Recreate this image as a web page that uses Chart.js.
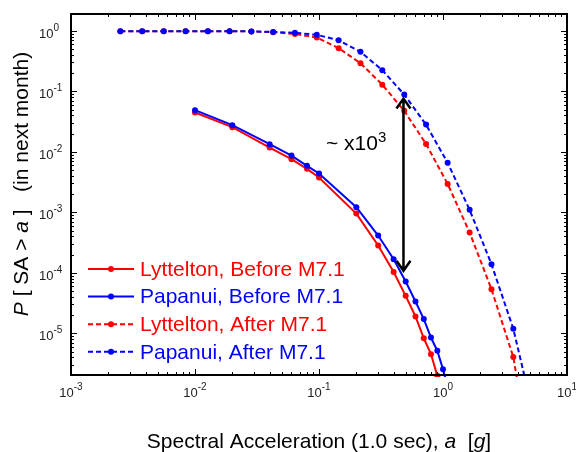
<!DOCTYPE html>
<html>
<head>
<meta charset="utf-8">
<script src="https://cdn.jsdelivr.net/npm/chart.js@4/dist/chart.umd.min.js"></script>
<style>
  html, body { margin: 0; padding: 0; background: #fff; }
</style>
</head>
<body>
<canvas id="hazardChart" width="576" height="452"></canvas>
<script>
// spectral acceleration grid (g)
const accelBefore = [0.01, 0.02, 0.04, 0.06, 0.08, 0.1, 0.2, 0.3, 0.4, 0.5, 0.6, 0.7, 0.8, 0.9, 1.0, 1.1];
const accelAfter = [0.0025, 0.00375, 0.0056, 0.0084, 0.0127, 0.019, 0.0285, 0.0427, 0.064, 0.096,
    0.144, 0.216, 0.324, 0.487, 0.73, 1.09, 1.64, 2.46, 3.69, 5.54];

// probability of exceedance in next month
const lyttBefore = [0.0447, 0.0256, 0.0118, 0.00757, 0.00524, 0.00377, 0.000955, 0.000283, 0.000103,
    4.17e-5, 1.9e-5, 8.3e-6, 4.53e-6, 1.99e-6, 8e-7];
const papBefore = [0.0489, 0.0276, 0.0134, 0.00869, 0.00587, 0.00439, 0.00122, 0.000414, 0.000168,
    7.2e-5, 3.36e-5, 1.72e-5, 8.53e-6, 5.14e-6, 2.55e-6, 1.2e-6];
const lyttAfter = [0.99, 0.99, 0.99, 0.99, 0.99, 0.99, 0.98, 0.95, 0.89, 0.775, 0.518, 0.292, 0.129,
    0.0476, 0.0135, 0.00295, 0.000464, 5.37e-5, 4.05e-6, 3e-8];
const papAfter = [0.99, 0.99, 0.99, 0.99, 0.99, 0.99, 0.98, 0.96, 0.93, 0.86, 0.70, 0.45, 0.224,
    0.0885, 0.0282, 0.0066, 0.0011, 0.000139, 1.19e-5, 3.5e-7];

const seriesNames = ['Lyttelton, Before M7.1', 'Papanui, Before M7.1', 'Lyttelton, After M7.1', 'Papanui, After M7.1'];
const xTickExps = [-3, -2, -1, 0, 1];
const yTickExps = [-5, -4, -3, -2, -1, 0];

// arrow annotation: x position and the two ends
const arrowX = 0.48;
const arrowTop = 0.076;
const arrowBottom = 1.08e-4;

const FONT = '"Liberation Sans", Arial, sans-serif';
const RED = '#ff0000';
const BLUE = '#0000ff';
const DASH = [5, 3];

function toPoints(xs, ys) {
    return ys.map((y, i) => ({ x: xs[i], y: y }));
}

function makeSet(label, xs, ys, color, dashed, order) {
    return {
        label: label,
        data: toPoints(xs, ys),
        order: order,
        borderColor: color,
        backgroundColor: color,
        borderWidth: 2,
        borderDash: dashed ? DASH : [],
        pointRadius: 3,
        pointBorderWidth: 0,
        pointBackgroundColor: color,
        tension: 0,
        fill: false,
        clip: 2
    };
}

function logTicks(min, max) {
    const out = [];
    for (let e = Math.floor(Math.log10(min)); e <= Math.ceil(Math.log10(max)); e++) {
        for (let m = 1; m < 10; m++) {
            const v = m * Math.pow(10, e);
            if (v >= min * 0.9999 && v <= max * 1.0001) out.push({ v: v, major: m === 1 });
        }
    }
    return out;
}

function drawRich(ctx, parts, x, y, size) {
    // parts: [text, italic]; x is left edge
    let cx = x;
    parts.forEach(p => {
        ctx.font = (p[1] ? 'italic ' : '') + size + 'px ' + FONT;
        ctx.fillText(p[0], cx, y);
        cx += ctx.measureText(p[0]).width;
    });
    return cx - x;
}

function richWidth(ctx, parts, size) {
    let w = 0;
    parts.forEach(p => {
        ctx.font = (p[1] ? 'italic ' : '') + size + 'px ' + FONT;
        w += ctx.measureText(p[0]).width;
    });
    return w;
}

const decorPlugin = {
    id: 'decor',
    afterDraw(chart) {
        const ctx = chart.ctx;
        const xs = chart.scales.x, ys = chart.scales.y;
        const a = chart.chartArea;
        ctx.save();
        ctx.fillStyle = '#000';
        ctx.strokeStyle = '#000';

        // frame
        ctx.lineWidth = 2;
        ctx.strokeRect(a.left, a.top, a.right - a.left, a.bottom - a.top);

        // ticks, inward on all sides
        ctx.lineWidth = 1;
        ctx.beginPath();
        logTicks(xs.min, xs.max).forEach(t => {
            const px = Math.round(xs.getPixelForValue(t.v)) + 0.5;
            const len = t.major ? 6 : 3;
            ctx.moveTo(px, a.bottom); ctx.lineTo(px, a.bottom - len);
            ctx.moveTo(px, a.top); ctx.lineTo(px, a.top + len);
        });
        logTicks(ys.min, ys.max).forEach(t => {
            const py = Math.round(ys.getPixelForValue(t.v)) + 0.5;
            const len = t.major ? 6 : 3;
            ctx.moveTo(a.left, py); ctx.lineTo(a.left + len, py);
            ctx.moveTo(a.right, py); ctx.lineTo(a.right - len, py);
        });
        ctx.stroke();

        // tick labels 10^n
        ctx.textBaseline = 'alphabetic';
        ctx.textAlign = 'left';
        ctx.fillStyle = '#222';
        xTickExps.forEach(e => {
            const px = xs.getPixelForValue(Math.pow(10, e));
            ctx.font = '13px ' + FONT;
            const w1 = ctx.measureText('10').width;
            ctx.font = '10px ' + FONT;
            const w2 = ctx.measureText(String(e)).width;
            const left = px - (w1 + w2) / 2;
            ctx.font = '13px ' + FONT;
            ctx.fillText('10', left, a.bottom + 22);
            ctx.font = '10px ' + FONT;
            ctx.fillText(String(e), left + w1, a.bottom + 15);
        });
        yTickExps.forEach(e => {
            const py = ys.getPixelForValue(Math.pow(10, e));
            ctx.font = '13px ' + FONT;
            const w1 = ctx.measureText('10').width;
            ctx.fillText('10', 39, py + 7);
            ctx.font = '10px ' + FONT;
            ctx.fillText(String(e), 39 + w1, py);
        });

        // axis titles
        ctx.fillStyle = '#000';
        const xTitle = [['Spectral Acceleration (1.0 sec), ', false], ['a', true], ['  [', false], ['g', true], [']', false]];
        const xw = richWidth(ctx, xTitle, 21);
        drawRich(ctx, xTitle, (a.left + a.right) / 2 - xw / 2, 448, 21);

        const yTitle = [['P', true], [' [ SA > ', false], ['a', true], [' ]   (in next month)', false]];
        const yw = richWidth(ctx, yTitle, 21);
        ctx.save();
        ctx.translate(28, 184);
        ctx.rotate(-Math.PI / 2);
        drawRich(ctx, yTitle, -yw / 2, 0, 21);
        ctx.restore();

        // legend
        const rows = [[RED, false], [BLUE, false], [RED, true], [BLUE, true]];
        rows.forEach((r, i) => {
            const y = 269 + i * 27.6;
            ctx.strokeStyle = r[0];
            ctx.fillStyle = r[0];
            ctx.lineWidth = 2;
            ctx.setLineDash(r[1] ? DASH : []);
            ctx.beginPath();
            ctx.moveTo(88, y); ctx.lineTo(134, y);
            ctx.stroke();
            ctx.setLineDash([]);
            ctx.beginPath();
            ctx.arc(111, y, 3, 0, Math.PI * 2);
            ctx.fill();
            ctx.font = '21px ' + FONT;
            ctx.textBaseline = 'middle';
            ctx.fillText(seriesNames[i], 140, y + 1);
        });
        ctx.textBaseline = 'alphabetic';

        // double arrow
        const ax = xs.getPixelForValue(arrowX);
        const ay1 = ys.getPixelForValue(arrowTop);
        const ay2 = ys.getPixelForValue(arrowBottom);
        ctx.strokeStyle = '#000';
        ctx.lineWidth = 2.5;
        ctx.beginPath();
        ctx.moveTo(ax, ay1); ctx.lineTo(ax, ay2);
        ctx.moveTo(ax - 7, ay1 + 10); ctx.lineTo(ax, ay1); ctx.lineTo(ax + 7, ay1 + 10);
        ctx.moveTo(ax - 7, ay2 - 10); ctx.lineTo(ax, ay2); ctx.lineTo(ax + 7, ay2 - 10);
        ctx.stroke();

        ctx.fillStyle = '#000';
        ctx.font = '21px ' + FONT;
        ctx.fillText('~ x10', 326, 150);
        const tw = ctx.measureText('~ x10').width;
        ctx.font = '15px ' + FONT;
        ctx.fillText('3', 326 + tw, 142);

        ctx.restore();
    }
};

const ctx = document.getElementById('hazardChart').getContext('2d');
const hazardChart = new Chart(ctx, {
    type: 'line',
    data: {
        datasets: [
            makeSet(seriesNames[0], accelBefore, lyttBefore, RED, false, 3),
            makeSet(seriesNames[1], accelBefore, papBefore, BLUE, false, 2),
            makeSet(seriesNames[2], accelAfter, lyttAfter, RED, true, 1),
            makeSet(seriesNames[3], accelAfter, papAfter, BLUE, true, 0)
        ]
    },
    options: {
        responsive: false,
        animation: false,
        devicePixelRatio: 1,
        layout: { padding: { left: 71, top: 14, right: 9, bottom: 77 } },
        plugins: { legend: { display: false }, tooltip: { enabled: false } },
        scales: {
            x: { type: 'logarithmic', min: 1e-3, max: 10, display: false },
            y: { type: 'logarithmic', min: 2.05e-6, max: 1.9, display: false }
        }
    },
    plugins: [decorPlugin]
});
</script>
</body>
</html>
